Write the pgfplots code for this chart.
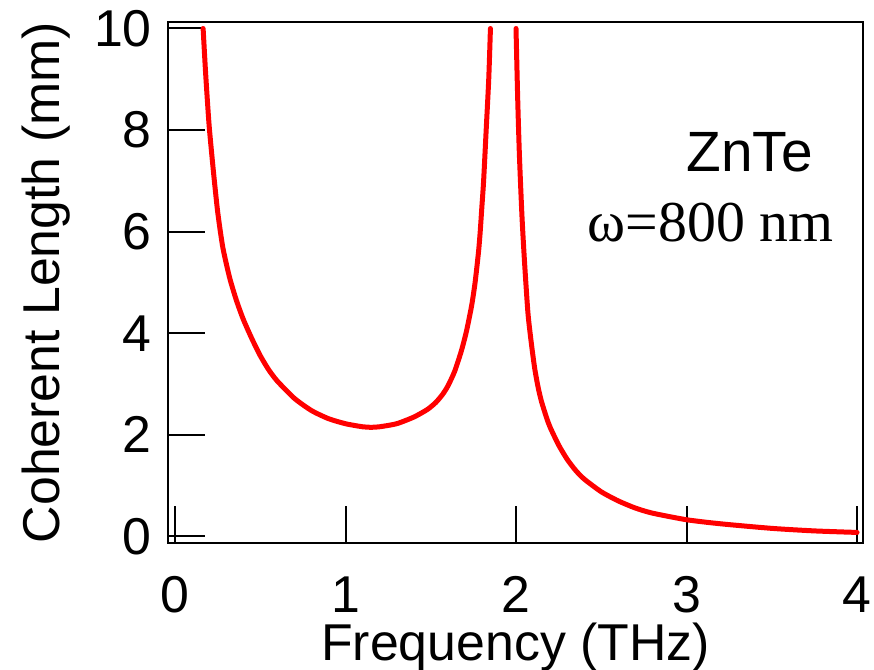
\documentclass[border=0pt]{standalone}
\usepackage{pgfplots}
\pgfplotsset{compat=1.18}
\usepackage{fontspec}
\setmainfont{Liberation Sans}
\newfontfamily\timesfont{Liberation Serif}
\begin{document}
\begin{tikzpicture}
\useasboundingbox (-168bp,-127bp) rectangle (706bp,543bp);
\begin{axis}[
  at={(0,0)}, anchor=south west,
  scale only axis,
  width=695bp, height=521bp,
  xmin=-0.041, xmax=4.035,
  ymin=-0.128, ymax=10.128,
  xtick={0,1,2,3,4},
  ytick={0,2,4,6,8,10},
  xtick pos=bottom, ytick pos=left,
  tick align=inside,
  major tick length=37bp,
  every tick/.style={line width=2bp, black},
  axis line style={line width=2.2bp, black},
  /pgf/number format/assume math mode=true,
  tick label style={font=\fontsize{52}{60}\selectfont},
  xticklabel style={anchor=base, yshift=-69bp, inner sep=0pt},
  yticklabel style={anchor=east, inner sep=0pt, xshift=-16bp},
  xlabel={Frequency (THz)},
  ylabel={Coherent Length (mm)},
  label style={font=\fontsize{52}{60}\selectfont},
  xlabel style={at={(axis description cs:0.5,0)}, anchor=base, yshift=-117bp, inner sep=0pt},
  ylabel style={at={([xshift=-108bp]axis description cs:0,0.5)}, anchor=base, inner sep=0pt},
  clip=false,
]
\addplot[red, line width=5bp, line cap=round, line join=round, smooth, tension=0.4] coordinates {
(0.165,10.0) (0.18,9.1) (0.20,8.1) (0.225,7.2) (0.25,6.4) (0.28,5.7) (0.32,5.1)
(0.36,4.65) (0.40,4.28) (0.45,3.9) (0.50,3.56) (0.55,3.28) (0.60,3.06) (0.70,2.72)
(0.80,2.48) (0.90,2.32) (1.00,2.22) (1.10,2.16) (1.15,2.15) (1.20,2.16) (1.30,2.22)
(1.40,2.35) (1.48,2.50) (1.53,2.64) (1.57,2.80) (1.60,2.96) (1.64,3.25) (1.68,3.66)
(1.71,4.05) (1.74,4.55) (1.76,5.0) (1.78,5.6) (1.79,6.0) (1.80,6.5) (1.81,7.0)
(1.825,8.0) (1.84,9.0) (1.85,10.0)
};
\addplot[red, line width=5bp, line cap=round, line join=round, smooth, tension=0.4] coordinates {
(2.0,10.0) (2.01,8.6) (2.02,7.5) (2.035,6.3) (2.05,5.4) (2.07,4.4) (2.09,3.8)
(2.11,3.3) (2.13,2.93) (2.15,2.65) (2.18,2.33) (2.2,2.15) (2.25,1.8) (2.3,1.52)
(2.35,1.3) (2.4,1.13) (2.5,0.88) (2.6,0.7) (2.7,0.56) (2.8,0.46) (3.0,0.33)
(3.2,0.25) (3.5,0.16) (3.75,0.11) (4.0,0.08)
};
\node[anchor=base, inner sep=0pt, font=\fontsize{57}{60}\selectfont] at (axis cs:3.37,7.18) {ZnTe};
\node[anchor=base, inner sep=0pt, font=\fontsize{58}{60}\selectfont\timesfont] at (axis cs:3.14,5.80) {ω=800 nm};
\end{axis}
\end{tikzpicture}
\end{document}
